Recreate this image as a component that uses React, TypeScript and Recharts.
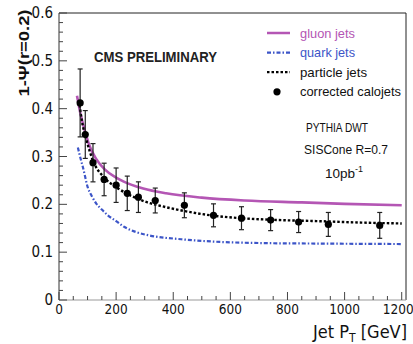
import React from 'react';
import {
  ComposedChart,
  ErrorBar,
  Legend,
  Line,
  ReferenceLine,
  Scatter,
  XAxis,
  YAxis,
} from 'recharts';

const NARROW = "'Liberation Sans Narrow', 'DejaVu Sans Condensed', 'Liberation Sans', sans-serif";
const SANS = "'Liberation Sans', Arial, sans-serif";

// 1 - Psi(r=0.2) versus jet pT (GeV), one pair of arrays per curve
const gluonPt = [63, 75, 90, 105, 130, 160, 200, 225, 295, 375, 500, 650, 850, 1000, 1200];
const gluonPsi = [0.427, 0.39, 0.355, 0.325, 0.295, 0.273, 0.256, 0.248, 0.233, 0.223, 0.214, 0.208, 0.204, 0.201, 0.198];

const quarkPt = [66, 75, 84, 101, 115, 130, 150, 171, 200, 228, 270, 316, 428, 579, 709, 900, 1200];
const quarkPsi = [0.319, 0.297, 0.277, 0.235, 0.217, 0.202, 0.189, 0.177, 0.165, 0.153, 0.142, 0.135, 0.127, 0.121, 0.119, 0.118, 0.117];

const particlePt = [70, 80, 95, 120, 158, 200, 242, 305, 375, 439, 544, 639, 779, 900, 1050, 1200];
const particlePsi = [0.417, 0.375, 0.337, 0.29, 0.256, 0.236, 0.221, 0.205, 0.194, 0.186, 0.176, 0.171, 0.167, 0.165, 0.162, 0.16];

// corrected calojets with symmetric uncertainties
const caloPt = [74, 92, 119, 158, 200, 239, 278, 337, 439, 541, 639, 741, 839, 943, 1123];
const caloPsi = [0.412, 0.346, 0.287, 0.252, 0.24, 0.223, 0.215, 0.208, 0.198, 0.177, 0.171, 0.167, 0.163, 0.158, 0.156];
const caloErr = [0.071, 0.05, 0.04, 0.034, 0.036, 0.036, 0.032, 0.026, 0.026, 0.024, 0.024, 0.022, 0.022, 0.025, 0.027];

const xMajor = [0, 200, 400, 600, 800, 1000, 1200];
const yMajor = [0, 0.1, 0.2, 0.3, 0.4, 0.5, 0.6];

const X_MAX = 1215;
const xTicks = Array.from({ length: 25 }, (_, i) => i * 50);
const yTicks = Array.from({ length: 31 }, (_, i) => +(i * 0.02).toFixed(2));

const GLUON = '#b456b4';
const QUARK = '#3c55c8';

const toRows = (xs: number[], ys: number[]) => xs.map((pt, i) => ({ pt, v: ys[i] }));

const gluon = toRows(gluonPt, gluonPsi);
const quark = toRows(quarkPt, quarkPsi);
const particle = toRows(particlePt, particlePsi);
const calo = caloPt.map((pt, i) => ({ pt, v: caloPsi[i], err: caloErr[i] }));

const legendItems = [
  { name: 'gluon jets', color: GLUON, kind: 'solid', width: 55 },
  { name: 'quark jets', color: QUARK, kind: 'dashdot', width: 55 },
  { name: 'particle jets', color: '#000', kind: 'dotted', width: 67 },
  { name: 'corrected calojets', color: '#000', kind: 'marker', width: 101 },
];

const near = (a: number, list: number[]) => list.some((b) => Math.abs(a - b) < 1e-6);

// inward ticks: tickSize is 0, so the axis sits tickMargin away from the label anchor
function XTick(props: any) {
  const { x, y, payload } = props;
  const axisY = y - 4;
  const major = near(payload.value, xMajor);
  const last = payload.value === xMajor[xMajor.length - 1];
  return (
    <g>
      <line x1={x} x2={x} y1={axisY} y2={axisY - (major ? 8 : 4)} stroke="#444" strokeWidth={1} />
      {major && (
        <text
          x={last ? x + 12 : x}
          y={axisY + 14}
          textAnchor={last ? 'end' : 'middle'}
          fontFamily={NARROW}
          fontSize={13.5}
          fill="#111"
        >
          {payload.value}
        </text>
      )}
    </g>
  );
}

function YTick(props: any) {
  const { x, y, payload } = props;
  const axisX = x + 6;
  const major = near(payload.value, yMajor);
  const label = payload.value === 0 ? '0' : payload.value.toFixed(1);
  return (
    <g>
      <line x1={axisX} x2={axisX + (major ? 8 : 4)} y1={y} y2={y} stroke="#444" strokeWidth={1} />
      {major && (
        <text x={x} y={y + 5} textAnchor="end" fontFamily={NARROW} fontSize={15} fill="#111">
          {label}
        </text>
      )}
    </g>
  );
}

function CaloDot(props: any) {
  const { cx, cy } = props;
  return <circle cx={cx} cy={cy} r={3.6} fill="#000" />;
}

function Sample({ kind, color, cy }: { kind: string; color: string; cy: number }) {
  if (kind === 'marker') return <circle cx={15} cy={cy} r={3.6} fill="#000" />;
  const dash = kind === 'dashdot' ? '4 2 1.5 2' : kind === 'dotted' ? '2.5 2' : undefined;
  return (
    <line
      x1={5}
      x2={28}
      y1={cy}
      y2={cy}
      stroke={color}
      strokeWidth={kind === 'solid' ? 2.5 : 2.2}
      strokeDasharray={dash}
    />
  );
}

function LegendBox() {
  return (
    <svg width={150} height={80} style={{ display: 'block' }}>
      {legendItems.map((item, i) => {
        const cy = 10 + i * 19.6;
        return (
          <g key={item.name}>
            <Sample kind={item.kind} color={item.color} cy={cy} />
            <text
              x={38}
              y={cy + 4.5}
              fontFamily={SANS}
              fontSize={13}
              textLength={item.width}
              lengthAdjust="spacingAndGlyphs"
              fill={item.kind === 'solid' || item.kind === 'dashdot' ? item.color : '#111'}
            >
              {item.name}
            </text>
          </g>
        );
      })}
    </svg>
  );
}

export default function App() {
  return (
    <div style={{ position: 'absolute', left: 0, top: 0, width: 413, height: 344, background: '#fff' }}>
      <ComposedChart width={413} height={344} margin={{ top: 13, right: 7, bottom: 14, left: 0 }}>
        <XAxis
          dataKey="pt"
          type="number"
          domain={[0, X_MAX]}
          ticks={xTicks}
          interval={0}
          tickSize={0}
          tickMargin={4}
          tickLine={false}
          axisLine={{ stroke: '#999' }}
          height={30}
          tick={<XTick />}
          allowDataOverflow
        />
        <YAxis
          dataKey="v"
          type="number"
          domain={[0, 0.6]}
          ticks={yTicks}
          interval={0}
          tickSize={0}
          tickMargin={6}
          tickLine={false}
          axisLine={{ stroke: '#333' }}
          width={59}
          tick={<YTick />}
          allowDataOverflow
        />
        <ReferenceLine y={0.6} stroke="#222" strokeWidth={1} />
        <ReferenceLine x={X_MAX} stroke="#222" strokeWidth={1} />
        <Legend
          layout="vertical"
          align="center"
          verticalAlign="middle"
          wrapperStyle={{ left: 262, top: 23, width: 150 }}
          content={() => <LegendBox />}
        />
        <Line
          data={quark}
          dataKey="v"
          type="monotone"
          stroke={QUARK}
          strokeWidth={2.2}
          strokeDasharray="4 2 1.5 2"
          dot={false}
          isAnimationActive={false}
        />
        <Line
          data={gluon}
          dataKey="v"
          type="monotone"
          stroke={GLUON}
          strokeWidth={2.6}
          dot={false}
          isAnimationActive={false}
        />
        <Line
          data={particle}
          dataKey="v"
          type="monotone"
          stroke="#000"
          strokeWidth={2.4}
          strokeDasharray="2.5 2"
          dot={false}
          isAnimationActive={false}
        />
        <Scatter data={calo} dataKey="v" shape={<CaloDot />} isAnimationActive={false}>
          <ErrorBar dataKey="err" direction="y" width={2.5} stroke="#222" strokeWidth={1.2} />
        </Scatter>
      </ComposedChart>
      <svg
        width={413}
        height={344}
        style={{ position: 'absolute', left: 0, top: 0, pointerEvents: 'none' }}
      >
        <text x={94} y={62} fontFamily={SANS} fontWeight="bold" fontSize={14} textLength={123} lengthAdjust="spacingAndGlyphs" fill="#222">
          CMS PRELIMINARY
        </text>
        <text x={306} y={131.5} fontFamily={SANS} fontSize={13.5} textLength={62} lengthAdjust="spacingAndGlyphs" fill="#111">
          PYTHIA DWT
        </text>
        <text x={304} y={153.5} fontFamily={SANS} fontSize={13.5} textLength={84} lengthAdjust="spacingAndGlyphs" fill="#111">
          SISCone R=0.7
        </text>
        <text x={325} y={177.5} fontFamily={SANS} fontSize={13.5} fill="#111">
          10pb
          <tspan fontSize={9} dy={-6}>-1</tspan>
        </text>
        <text
          x={23}
          y={53}
          transform="rotate(-90 23 53)"
          textAnchor="middle"
          dominantBaseline="central"
          fontFamily={SANS}
          fontWeight="bold"
          fontSize={15}
          textLength={87}
          lengthAdjust="spacingAndGlyphs"
          fill="#111"
        >
          1-Ψ(r=0.2)
        </text>
        <text x={407} y={338} textAnchor="end" fontFamily={NARROW} fontSize={18} fill="#111">
          Jet P
          <tspan fontSize={12} dy={4}>T</tspan>
          <tspan dy={-4}> [GeV]</tspan>
        </text>
      </svg>
    </div>
  );
}
